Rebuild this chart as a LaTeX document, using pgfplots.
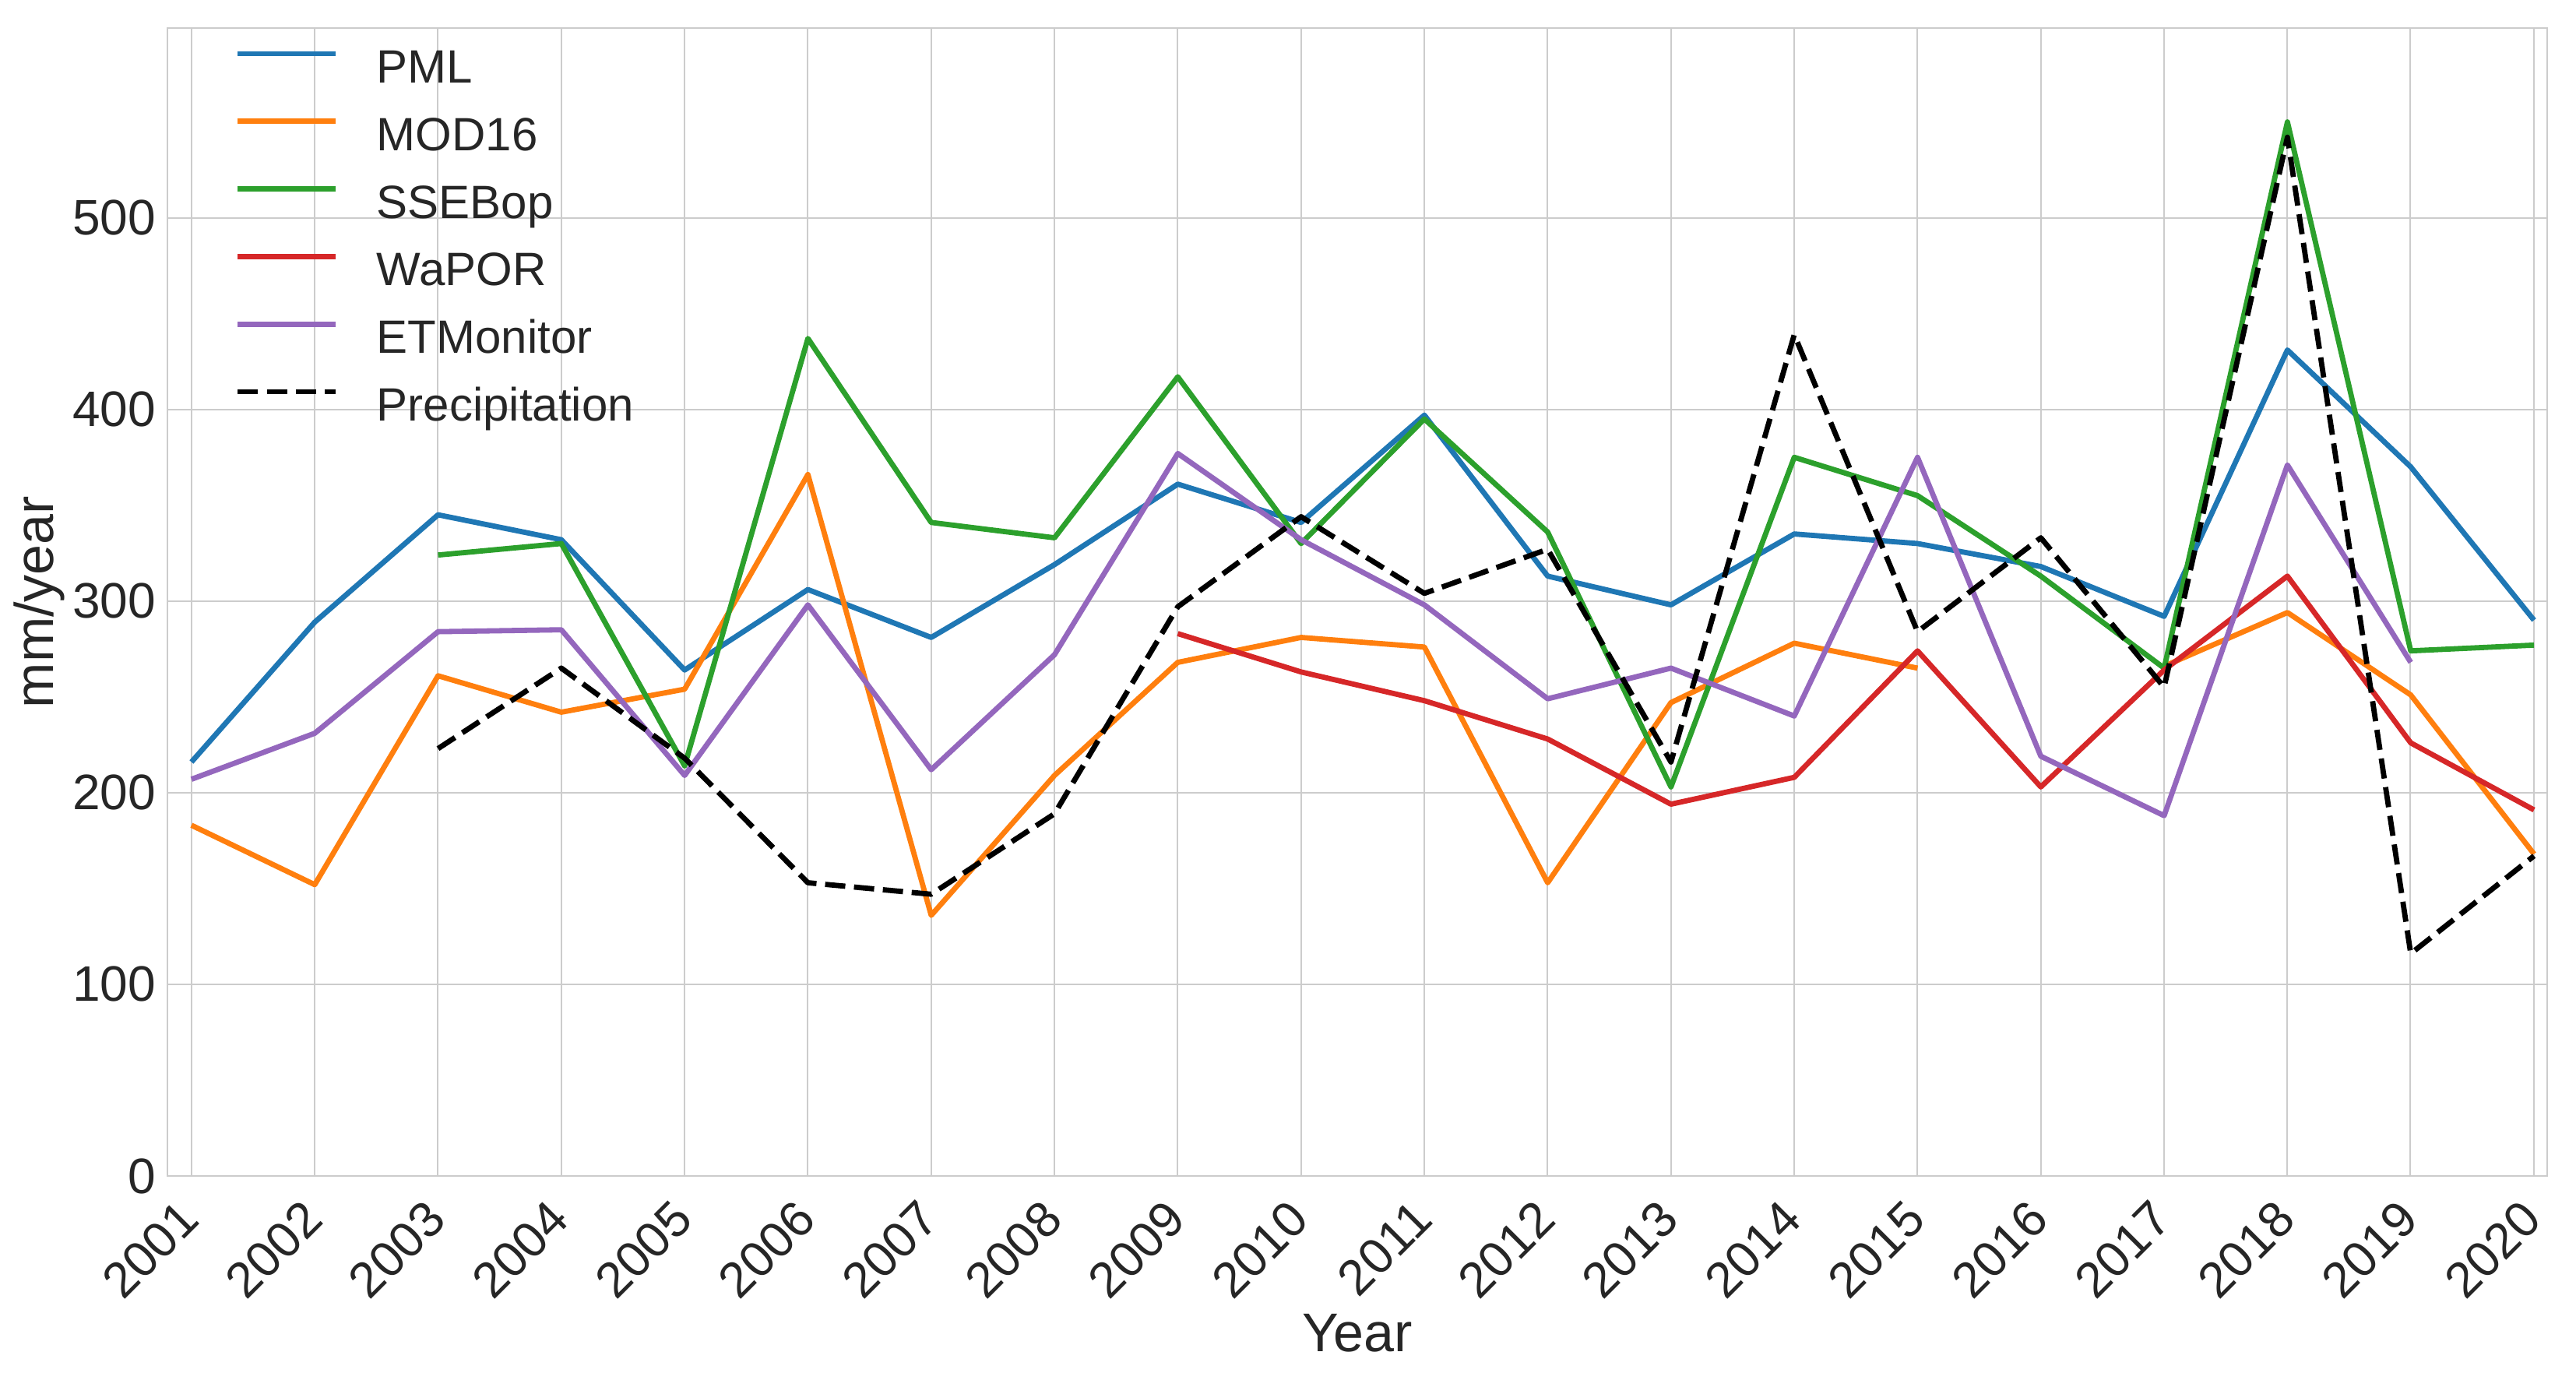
\documentclass[border=0pt]{standalone}
\usepackage{fontspec}
\setmainfont{Liberation Sans}
\usepackage{pgfplots}
\pgfplotsset{compat=1.18}

\definecolor{tabblue}{HTML}{1F77B4}
\definecolor{taborange}{HTML}{FF7F0E}
\definecolor{tabgreen}{HTML}{2CA02C}
\definecolor{tabred}{HTML}{D62728}
\definecolor{tabpurple}{HTML}{9467BD}
\definecolor{gridgray}{HTML}{CCCCCC}
\definecolor{txt}{HTML}{262626}

\begin{document}
\begin{tikzpicture}
\begin{axis}[
    name=ax,
    scale only axis,
    width=764pt, height=368.5pt,
    xmin=2000.805, xmax=2020.107,
    ymin=0, ymax=599,
    xtick={2001,...,2020},
    xticklabels={2001,2002,2003,2004,2005,2006,2007,2008,2009,2010,2011,2012,2013,2014,2015,2016,2017,2018,2019,2020},
    ytick={0,100,...,500},
    /pgf/number format/assume math mode=true,
    major tick length=0pt,
    tick style={draw=none},
    grid=major,
    major grid style={gridgray, line width=0.5pt},
    axis line style={gridgray, line width=0.6pt},
    ticklabel style={font=\fontsize{16}{19}\selectfont, text=txt},
    yticklabel style={inner sep=0pt, xshift=-3.5pt},
    xticklabel style={inner sep=0pt, shift={(-4.6pt,-6.75pt)}, rotate=45, anchor=north east},
    xlabel={Year}, ylabel={mm/year},
    every axis x label/.style={at={(axis description cs:0.5,0)}, anchor=center, yshift=-50.5pt,
        font=\fontsize{17.5}{21}\selectfont, text=txt},
    every axis y label/.style={at={([xshift=-41.25pt]axis description cs:0,0.5)}, rotate=90, anchor=center,
        font=\fontsize{17.5}{21}\selectfont, text=txt},
    unbounded coords=jump,
    every axis plot/.append style={line width=1.7pt, line join=round},
    legend cell align=left,
    legend style={draw=none, fill=none, at={(axis description cs:0,1)}, anchor=north west,
        xshift=21.75pt, yshift=-5.65pt, inner sep=0pt, outer sep=0pt,
        row sep=5.7pt, column sep=12.25pt,
        font=\fontsize{15}{18}\selectfont, text=txt,
        nodes={inner sep=0pt, text height=12pt, text depth=4pt}},
    legend image code/.code={\draw[#1] (0pt,5.4pt) -- (31.5pt,5.4pt);},
]
\addplot[tabblue] coordinates {
 (2001,216) (2002,289) (2003,345) (2004,332) (2005,264) (2006,306) (2007,281)
 (2008,319) (2009,361) (2010,341) (2011,397) (2012,313) (2013,298) (2014,335)
 (2015,330) (2016,318) (2017,292) (2018,431) (2019,370) (2020,290)};
\addlegendentry{PML}
\addplot[taborange] coordinates {
 (2001,183) (2002,152) (2003,261) (2004,242) (2005,254) (2006,366) (2007,136)
 (2008,209) (2009,268) (2010,281) (2011,276) (2012,153) (2013,247) (2014,278)
 (2015,265) (2016,nan) (2017,266) (2018,294) (2019,251) (2020,168)};
\addlegendentry{MOD16}
\addplot[tabgreen] coordinates {
 (2003,324) (2004,330) (2005,214) (2006,437) (2007,341) (2008,333) (2009,417)
 (2010,330) (2011,395) (2012,336) (2013,203) (2014,375) (2015,355) (2016,313)
 (2017,265) (2018,550) (2019,274) (2020,277)};
\addlegendentry{SSEBop}
\addplot[tabred] coordinates {
 (2009,283) (2010,263) (2011,248) (2012,228) (2013,194) (2014,208) (2015,274)
 (2016,203) (2017,264) (2018,313) (2019,226) (2020,191)};
\addlegendentry{WaPOR}
\addplot[tabpurple] coordinates {
 (2001,207) (2002,231) (2003,284) (2004,285) (2005,209) (2006,298) (2007,212)
 (2008,272) (2009,377) (2010,332) (2011,298) (2012,249) (2013,265) (2014,240)
 (2015,375) (2016,219) (2017,188) (2018,371) (2019,268)};
\addlegendentry{ETMonitor}
\addplot[black, dash pattern=on 6.5pt off 2.8pt] coordinates {
 (2003,223) (2004,265) (2005,218) (2006,153) (2007,147) (2008,189) (2009,297)
 (2010,344) (2011,304) (2012,327) (2013,216) (2014,439) (2015,284) (2016,333)
 (2017,255) (2018,542) (2019,116) (2020,167)};
\addlegendentry{Precipitation}
\end{axis}
\path ([shift={(-53.75pt,-63.25pt)}]ax.south west) rectangle ([shift={(9.25pt,9pt)}]ax.north east);
\end{tikzpicture}
\end{document}
